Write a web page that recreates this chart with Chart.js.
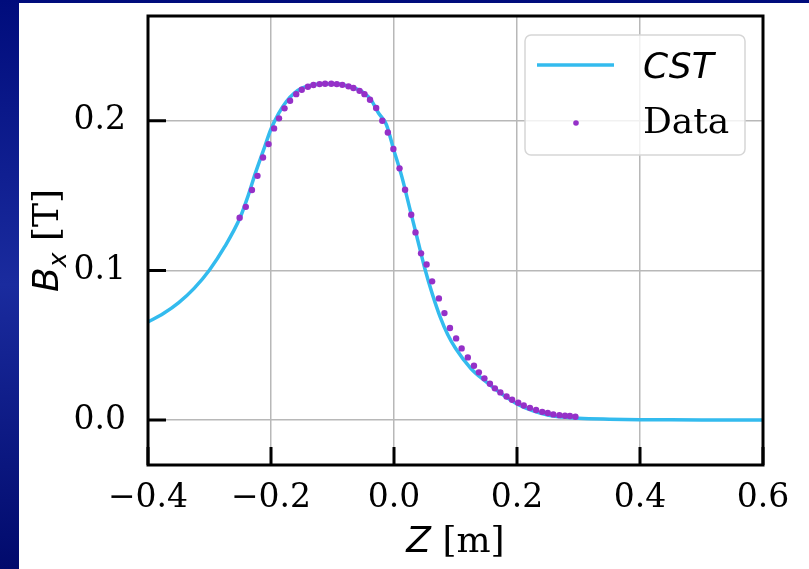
<!DOCTYPE html>
<html lang="en">
<head>
<meta charset="utf-8">
<title>Bx along Z</title>
<script src="https://cdn.jsdelivr.net/npm/chart.js"></script>
<style>
  html, body { margin: 0; padding: 0; background: #000d7e; overflow: hidden; }
</style>
</head>
<body>
<canvas id="fieldChart" width="809" height="569"></canvas>
<script>
// CST simulation: Z [m] and Bx [T]
const cstZ = [-0.400, -0.375, -0.350, -0.325, -0.300, -0.275, -0.250, -0.2375, -0.225, -0.2125,
              -0.200, -0.1875, -0.175, -0.1625, -0.150, -0.125, -0.100, -0.075, -0.050, -0.0375,
              -0.025, -0.0125, 0.000, 0.0125, 0.025, 0.0375, 0.050, 0.0625, 0.075, 0.0875,
              0.100, 0.125, 0.150, 0.175, 0.200, 0.225, 0.250, 0.275, 0.300, 0.350,
              0.400, 0.450, 0.500, 0.550, 0.600];
const cstB = [0.0655, 0.0712, 0.0785, 0.0880, 0.1003, 0.1160, 0.1355, 0.1495, 0.1655, 0.1800,
              0.1945, 0.2050, 0.2129, 0.2183, 0.2218, 0.2244, 0.2247, 0.2232, 0.2190, 0.2140,
              0.2050, 0.1975, 0.1800, 0.1630, 0.1425, 0.1220, 0.1015, 0.0840, 0.0690, 0.0570,
              0.0480, 0.0345, 0.0255, 0.0175, 0.0108, 0.0063, 0.0034, 0.0020, 0.0012, 0.0006,
              0.0003, 0.0002, 0.0001, 0.0000, 0.0000];

// measured points
const dataZ = [-0.251, -0.241, -0.231, -0.222, -0.213, -0.204, -0.195, -0.187, -0.178, -0.169,
               -0.159, -0.150, -0.140, -0.131, -0.121, -0.112, -0.102, -0.093, -0.084, -0.074,
               -0.066, -0.056, -0.048, -0.039, -0.029, -0.019, -0.010, -0.001, 0.009, 0.018,
               0.028, 0.035, 0.044, 0.053, 0.062, 0.073, 0.082, 0.091, 0.101, 0.110,
               0.120, 0.130, 0.138, 0.147, 0.156, 0.164, 0.173, 0.183, 0.192, 0.202,
               0.211, 0.221, 0.231, 0.241, 0.250, 0.259, 0.269, 0.278, 0.286, 0.295];
const dataB = [0.1352, 0.1425, 0.1537, 0.1632, 0.1755, 0.1844, 0.1949, 0.2016, 0.2083, 0.2134,
               0.2178, 0.2207, 0.2227, 0.2239, 0.2245, 0.2247, 0.2247, 0.2245, 0.2240, 0.2230,
               0.2219, 0.2200, 0.2178, 0.2140, 0.2085, 0.2000, 0.1922, 0.1811, 0.1682, 0.1539,
               0.1372, 0.1254, 0.1114, 0.1040, 0.0927, 0.0813, 0.0715, 0.0615, 0.0546, 0.0479,
               0.0419, 0.0363, 0.0319, 0.0279, 0.0243, 0.0212, 0.0185, 0.0158, 0.0136, 0.0116,
               0.0098, 0.0082, 0.0067, 0.0055, 0.0047, 0.0038, 0.0033, 0.0029, 0.0027, 0.0022];

const xTicks = [-0.4, -0.2, 0.0, 0.2, 0.4, 0.6];
const yTicks = [0.0, 0.1, 0.2];

const blue = '#33bbee';
const purple = '#9530c8';
const serif = '"DejaVu Serif", "Liberation Serif", serif';
const sans = '"DejaVu Sans", sans-serif';

// slide background with white panel
const backdrop = {
  id: 'backdrop',
  beforeDraw(chart) {
    const ctx = chart.ctx;
    const g = ctx.createLinearGradient(0, 0, 0, chart.height);
    g.addColorStop(0, '#000c7c');
    g.addColorStop(0.5, '#1a2b9e');
    g.addColorStop(1, '#010a6c');
    ctx.save();
    ctx.fillStyle = g;
    ctx.fillRect(0, 0, chart.width, chart.height);
    ctx.fillStyle = '#fff';
    ctx.fillRect(19, 3, chart.width - 19, chart.height - 3);
    ctx.restore();
  }
};

// box around the plot and inward ticks on left/bottom
const frame = {
  id: 'frame',
  afterDatasetsDraw(chart) {
    const { ctx, chartArea: a, scales: { x, y } } = chart;
    ctx.save();
    ctx.strokeStyle = '#000';
    ctx.lineWidth = 3;
    ctx.beginPath();
    xTicks.forEach(v => {
      const px = x.getPixelForValue(v);
      ctx.moveTo(px, a.bottom);
      ctx.lineTo(px, a.bottom - 18);
    });
    yTicks.forEach(v => {
      const py = y.getPixelForValue(v);
      ctx.moveTo(a.left, py);
      ctx.lineTo(a.left + 18, py);
    });
    ctx.stroke();
    ctx.strokeRect(a.left, a.top, a.right - a.left, a.bottom - a.top);
    ctx.restore();
  }
};

// draw a row of differently styled text pieces centred on (0, 0)
function drawRuns(ctx, runs) {
  let w = 0;
  runs.forEach(r => { ctx.font = r.font; w += ctx.measureText(r.text).width; });
  let cx = -w / 2;
  runs.forEach(r => {
    ctx.font = r.font;
    ctx.fillText(r.text, cx, r.dy || 0);
    cx += ctx.measureText(r.text).width;
  });
}

// axis titles and the legend inside the plot
const annotations = {
  id: 'annotations',
  afterDraw(chart) {
    const { ctx, chartArea: a } = chart;
    const ds = chart.data.datasets;
    ctx.save();
    ctx.fillStyle = '#000';
    ctx.textBaseline = 'alphabetic';
    ctx.textAlign = 'left';

    ctx.save();
    ctx.translate((a.left + a.right) / 2, 552);
    drawRuns(ctx, [
      { text: 'Z', font: 'italic 36px ' + sans },
      { text: ' [m]', font: '36px ' + serif }
    ]);
    ctx.restore();

    ctx.save();
    ctx.translate(58, (a.top + a.bottom) / 2);
    ctx.rotate(-Math.PI / 2);
    drawRuns(ctx, [
      { text: 'B', font: 'italic 36px ' + sans },
      { text: 'x', font: 'italic 25px ' + sans, dy: 8 },
      { text: ' [T]', font: '36px ' + serif }
    ]);
    ctx.restore();

    // legend
    const bx = 525, by = 35, bw = 220, bh = 120;
    ctx.beginPath();
    ctx.roundRect(bx, by, bw, bh, 6);
    ctx.fillStyle = 'rgba(255,255,255,0.8)';
    ctx.fill();
    ctx.strokeStyle = '#d6d6d6';
    ctx.lineWidth = 1.5;
    ctx.stroke();

    ctx.strokeStyle = ds[0].borderColor;
    ctx.lineWidth = 3.5;
    ctx.beginPath();
    ctx.moveTo(537, 65);
    ctx.lineTo(614, 65);
    ctx.stroke();

    ctx.fillStyle = ds[1].backgroundColor;
    ctx.beginPath();
    ctx.arc(576, 123, 2.8, 0, Math.PI * 2);
    ctx.fill();

    ctx.fillStyle = '#000';
    ctx.font = 'italic 36px ' + sans;
    ctx.fillText(ds[0].label, 643, 78);
    ctx.font = '36px ' + serif;
    ctx.fillText(ds[1].label, 643, 133);
    ctx.restore();
  }
};

const fmt = v => v.toFixed(1).replace('-', '\u2212');

new Chart(document.getElementById('fieldChart'), {
  type: 'scatter',
  data: {
    datasets: [
      {
        label: 'CST',
        data: cstZ.map((z, i) => ({ x: z, y: cstB[i] })),
        showLine: true,
        borderColor: blue,
        backgroundColor: blue,
        borderWidth: 3.5,
        pointRadius: 0,
        cubicInterpolationMode: 'monotone',
        order: 2
      },
      {
        label: 'Data',
        data: dataZ.map((z, i) => ({ x: z, y: dataB[i] })),
        showLine: false,
        borderColor: purple,
        backgroundColor: purple,
        borderWidth: 0,
        pointRadius: 3.2,
        order: 1
      }
    ]
  },
  options: {
    responsive: false,
    animation: false,
    devicePixelRatio: 1,
    layout: { padding: { left: 0, top: 16, right: 46, bottom: 0 } },
    plugins: {
      legend: { display: false },
      tooltip: { enabled: false }
    },
    scales: {
      x: {
        type: 'linear',
        min: -0.4,
        max: 0.6,
        afterBuildTicks: s => { s.ticks = xTicks.map(v => ({ value: v })); },
        afterFit: s => { s.height = 104; s.paddingLeft = 0; s.paddingRight = 0; },
        ticks: {
          callback: fmt,
          color: '#000',
          font: { family: serif, size: 33, lineHeight: 1.2 },
          padding: 14,
          maxRotation: 0,
          autoSkip: false
        },
        grid: { color: '#b8b8b8', lineWidth: 1.5, drawTicks: false },
        border: { display: false }
      },
      y: {
        type: 'linear',
        min: -0.03,
        max: 0.27,
        afterBuildTicks: s => { s.ticks = yTicks.map(v => ({ value: v })); },
        afterFit: s => { s.width = 148; s.paddingTop = 0; s.paddingBottom = 0; },
        ticks: {
          callback: fmt,
          color: '#000',
          font: { family: serif, size: 33 },
          padding: 22,
          autoSkip: false
        },
        grid: { color: '#b8b8b8', lineWidth: 1.5, drawTicks: false },
        border: { display: false }
      }
    }
  },
  plugins: [backdrop, frame, annotations]
});
</script>
</body>
</html>
